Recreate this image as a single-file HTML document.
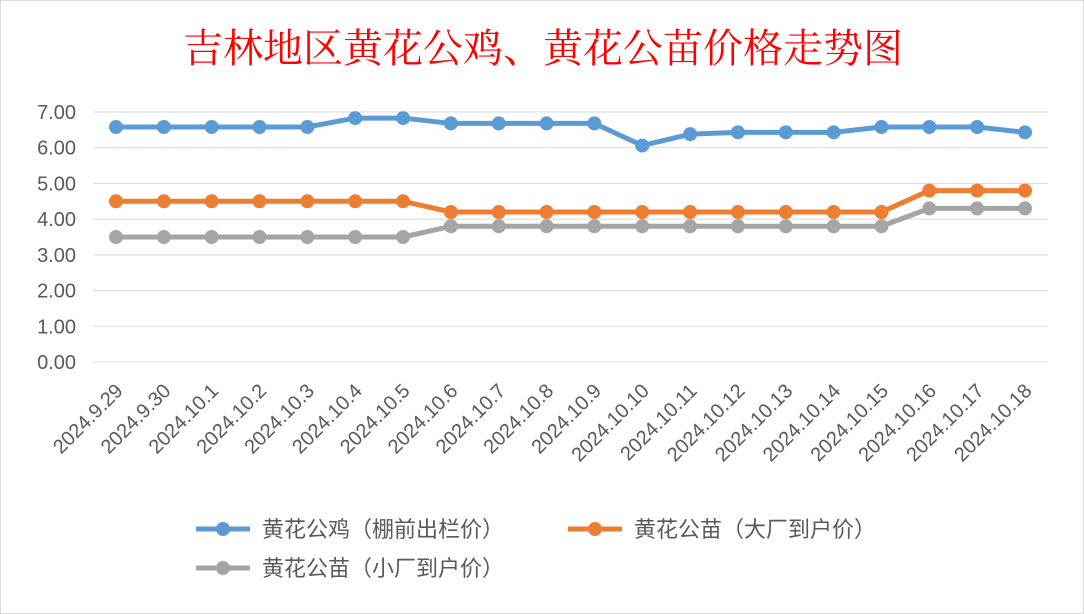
<!DOCTYPE html>
<html><head><meta charset="utf-8"><style>
body{margin:0;background:#fff;}
svg{display:block;font-family:"Liberation Sans","Noto Sans CJK SC",sans-serif;}
</style></head><body>
<svg id="c" width="1084" height="614">
<rect x="0.5" y="0.5" width="1083" height="613" fill="#fff" stroke="#d9d9d9"/>
<text x="543" y="62" text-anchor="middle" font-size="40" fill="#ff0000" font-family="'Liberation Serif','Noto Serif CJK SC',serif">吉林地区黄花公鸡、黄花公苗价格走势图</text>
<g id="grid"></g><g id="xl"></g><g id="series"></g>
<g font-size="22" fill="#595959">
<g><line x1="196" y1="529" x2="250" y2="529" stroke="#5b9bd5" stroke-width="5"/><circle cx="223" cy="529" r="7" fill="#5b9bd5"/><text x="262" y="537">黄花公鸡（棚前出栏价）</text></g>
<g><line x1="568" y1="529" x2="622" y2="529" stroke="#ed7d31" stroke-width="5"/><circle cx="595" cy="529" r="7" fill="#ed7d31"/><text x="634" y="537">黄花公苗（大厂到户价）</text></g>
<g><line x1="196" y1="568" x2="250" y2="568" stroke="#a5a5a5" stroke-width="5"/><circle cx="223" cy="568" r="7" fill="#a5a5a5"/><text x="262" y="576">黄花公苗（小厂到户价）</text></g>
</g>
</svg>
<script>
const categories=["2024.9.29","2024.9.30","2024.10.1","2024.10.2","2024.10.3","2024.10.4","2024.10.5","2024.10.6","2024.10.7","2024.10.8","2024.10.9","2024.10.10","2024.10.11","2024.10.12","2024.10.13","2024.10.14","2024.10.15","2024.10.16","2024.10.17","2024.10.18"];
const rooster=[6.58,6.58,6.58,6.58,6.58,6.83,6.83,6.68,6.68,6.68,6.68,6.06,6.38,6.43,6.43,6.43,6.58,6.58,6.58,6.43];
const chickLarge=[4.5,4.5,4.5,4.5,4.5,4.5,4.5,4.2,4.2,4.2,4.2,4.2,4.2,4.2,4.2,4.2,4.2,4.8,4.8,4.8];
const chickSmall=[3.5,3.5,3.5,3.5,3.5,3.5,3.5,3.8,3.8,3.8,3.8,3.8,3.8,3.8,3.8,3.8,3.8,4.3,4.3,4.3];
const yTicks=[0,1,2,3,4,5,6,7];
const NS="http://www.w3.org/2000/svg";
const X=i=>116+i*(1025-116)/(categories.length-1);
const Y=v=>362-v*(250/7);
function mk(t,a,p){const e=document.createElementNS(NS,t);for(const k in a)e.setAttribute(k,a[k]);p.appendChild(e);return e;}
const g=document.getElementById('grid');
yTicks.forEach(v=>{
 const l=mk('line',{x1:93,x2:1048,y1:Y(v),y2:Y(v),stroke:'#d9d9d9','stroke-width':1},g);
 
 
 const t=mk('text',{x:76,y:Y(v)+7,'text-anchor':'end','font-size':20,fill:'#595959'},g);
 t.textContent=v.toFixed(2);
 
 
});
const xl=document.getElementById('xl');
categories.forEach((c,i)=>{
 const t=mk('text',{x:X(i)+8,y:392,'text-anchor':'end','font-size':20,fill:'#595959',transform:`rotate(-45 ${X(i)+8} 392)`},xl);
 t.textContent=c;
 
 
});
const s=document.getElementById('series');
[[chickSmall,'#a5a5a5','series-chick-small'],[chickLarge,'#ed7d31','series-chick-large'],[rooster,'#5b9bd5','series-rooster']].forEach(([d,col,n])=>{
 const gg=mk('g',{},s);
 
 
 const p=mk('polyline',{points:d.map((v,i)=>X(i)+','+Y(v)).join(' '),fill:'none',stroke:col,'stroke-width':5,'stroke-linejoin':'round'},gg);
 
 
 d.forEach((v,i)=>{
  const c=mk('circle',{cx:X(i),cy:Y(v),r:7,fill:col},gg);
  
  
 });
});
</script>
</body></html>
